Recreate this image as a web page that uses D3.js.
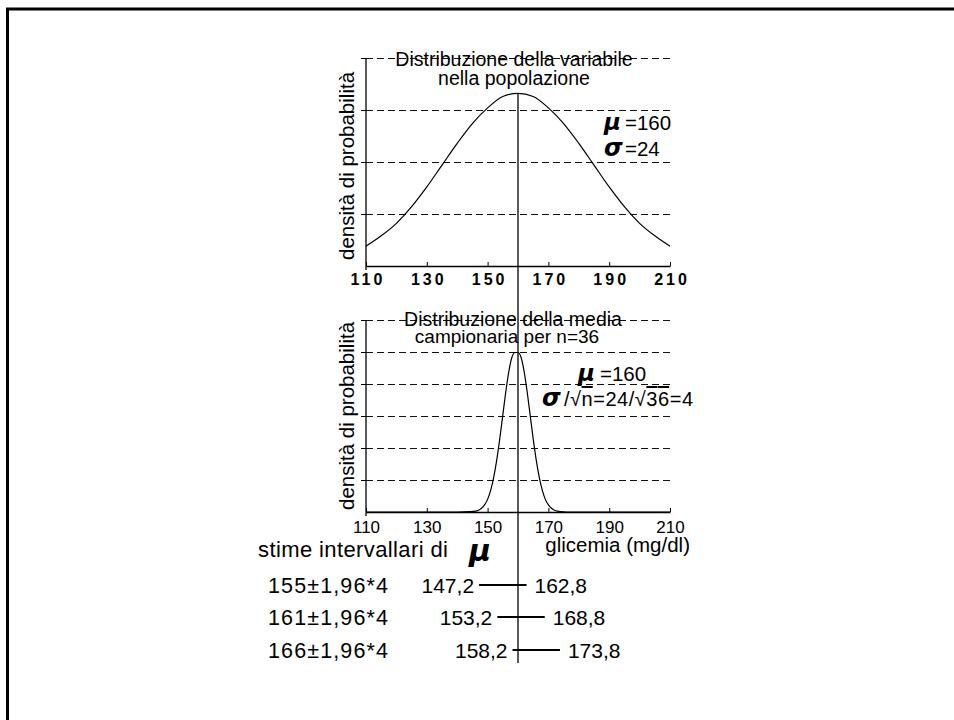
<!DOCTYPE html>
<html>
<head>
<meta charset="utf-8">
<script src="https://cdn.jsdelivr.net/npm/d3@7"></script>
<style>
  body { margin: 0; background: #fff; }
  svg { display: block; font-family: "Liberation Sans", Arial, sans-serif; }
</style>
</head>
<body>
<svg id="chart" width="954" height="720"></svg>
<script>
// ---- data ----
const xTicks = [110, 130, 150, 170, 190, 210];
const popGrid = [0.005, 0.01, 0.015, 0.02];
const sampGrid = [0.02, 0.04, 0.06, 0.08, 0.1, 0.12];
const popMean = 160;
// population density curve
const popX = [110,115,120,125,130,135,140,145,150,155,160,165,170,175,180,185,190,195,200,205,210];
const popY = [0.0019,0.0029,0.0041,0.0057,0.0076,0.0097,0.0118,0.0137,0.0152,0.0163,0.0166,0.0163,0.0152,0.0137,0.0118,0.0097,0.0076,0.0057,0.0041,0.0029,0.0019];
// sample-mean density curve (n = 36)
const sampX = [110,140,144,146,147,148,149,150,151,152,153,154,155,156,157,158,159,160,161,162,163,164,165,166,167,168,169,170,171,172,173,174,176,180,210];
const sampY = [0,0,0.0002,0.0005,0.0011,0.0023,0.0044,0.0079,0.0135,0.0216,0.0324,0.0457,0.0605,0.0753,0.0880,0.0967,0.0997,0.0997,0.0967,0.0880,0.0753,0.0605,0.0457,0.0324,0.0216,0.0135,0.0079,0.0044,0.0023,0.0011,0.0005,0.0002,0,0,0];
const estLabels = ["155\u00B11,96*4", "161\u00B11,96*4", "166\u00B11,96*4"];
const lowerBounds = [147.2, 153.2, 158.2];
const upperBounds = [162.8, 168.8, 173.8];
const lowerLabels = ["147,2", "153,2", "158,2"];
const upperLabels = ["162,8", "168,8", "173,8"];

const svg = d3.select("#chart");

// frame
svg.append("path")
  .attr("d", "M7.5,740 L7.5,9 L970,9")
  .attr("fill", "none").attr("stroke", "#000").attr("stroke-width", 3);

const x = d3.scaleLinear().domain([110, 210]).range([366, 670]);
const yTop = d3.scaleLinear().domain([0, 0.02]).range([266, 58]);
const yBot = d3.scaleLinear().domain([0, 0.12]).range([512, 320]);
const px = v => Math.round(v) + 0.5;

function panel(y, grid, pts, tickStyle) {
  const g = svg.append("g");
  g.selectAll("line.grid").data(grid).join("line")
    .attr("x1", x.range()[0]).attr("x2", x.range()[1])
    .attr("y1", d => px(y(d))).attr("y2", d => px(y(d)))
    .attr("stroke", "#111").attr("stroke-width", 1).attr("stroke-dasharray", "7,4")
    .attr("shape-rendering", "crispEdges");
  g.selectAll("line.yt").data(grid).join("line")
    .attr("x1", x.range()[0] - 5).attr("x2", x.range()[0])
    .attr("y1", d => px(y(d))).attr("y2", d => px(y(d)))
    .attr("stroke", "#000").attr("shape-rendering", "crispEdges");
  g.append("line")
    .attr("x1", x.range()[0]).attr("x2", x.range()[0])
    .attr("y1", y(grid[grid.length - 1])).attr("y2", y(0) + 4)
    .attr("stroke", "#000").attr("stroke-width", 1.3);
  const ax = d3.axisBottom(x).tickValues(xTicks).tickSize(-4).tickSizeOuter(0).tickPadding(tickStyle.pad);
  const ga = g.append("g").attr("transform", `translate(0,${y(0)})`).call(ax);
  ga.select(".domain").attr("stroke-width", 1.3);
  ga.selectAll("text")
    .attr("font-family", "Liberation Sans, Arial, sans-serif")
    .attr("font-size", tickStyle.size)
    .attr("font-weight", tickStyle.weight)
    .attr("letter-spacing", tickStyle.ls)
    .attr("dx", tickStyle.dx)
    .attr("fill", "#000");
  const line = d3.line().x(d => x(d[0])).y(d => y(d[1])).curve(d3.curveMonotoneX);
  g.append("path").datum(pts).attr("d", line)
    .attr("fill", "none").attr("stroke", "#000").attr("stroke-width", 1.2);
  return g;
}

panel(yTop, popGrid, popX.map((v, i) => [v, popY[i]]),
  { size: 16, weight: "bold", ls: "3px", pad: 8, dx: "1.5px" });
panel(yBot, sampGrid, sampX.map((v, i) => [v, sampY[i]]),
  { size: 17, weight: "normal", ls: "0px", pad: 9, dx: "0px" });

// vertical mean line
svg.append("line")
  .attr("x1", x(popMean)).attr("x2", x(popMean))
  .attr("y1", yTop(d3.max(popY))).attr("y2", 663)
  .attr("stroke", "#000").attr("stroke-width", 1.3);

const T = (tx, ty, txt, size, anchor) => svg.append("text")
  .attr("x", tx).attr("y", ty).attr("font-size", size)
  .attr("text-anchor", anchor || "middle").text(txt);

T(514, 66, "Distribuzione della variabile", 19.5);
T(514, 85, "nella popolazione", 19.5);
T(513, 326, "Distribuzione della media", 19.5);
T(507, 343, "campionaria per n=36", 19);

[166, 416].forEach(cy => {
  svg.append("text")
    .attr("transform", `translate(354,${cy}) rotate(-90)`)
    .attr("text-anchor", "middle").attr("font-size", 20.5)
    .text("densit\u00E0 di probabilit\u00E0");
});

function greek(tx, ty, ch, size) {
  return svg.append("text").attr("x", tx).attr("y", ty)
    .attr("font-size", size).attr("font-weight", "bold").attr("font-style", "italic")
    .attr("font-family", "DejaVu Sans, sans-serif").text(ch);
}
// parameter annotations (top)
greek(604, 130, "\u03BC", 23);
T(625, 130, "=160", 20.5, "start");
greek(604, 156, "\u03C3", 24);
T(625, 156, "=24", 20.5, "start");

// parameter annotations (bottom)
greek(578, 381, "\u03BC", 23);
T(600, 381, "=160", 20.5, "start");
greek(542, 406, "\u03C3", 24);
const s2 = svg.append("text").attr("x", 564).attr("y", 406).attr("font-size", 20)
  .attr("textLength", 129).attr("lengthAdjust", "spacing");
s2.append("tspan").text("/\u221A");
s2.append("tspan").attr("text-decoration", "overline").text("n");
s2.append("tspan").text("=24/\u221A");
s2.append("tspan").attr("text-decoration", "overline").text("36");
s2.append("tspan").text("=4");

// x-axis title
T(690, 552, "glicemia (mg/dl)", 20.5, "end");

// interval estimates
T(258, 557, "stime intervallari di", 22).attr("text-anchor", "start")
  .attr("textLength", 190).attr("lengthAdjust", "spacing");
greek(469, 561, "\u03BC", 30);

const rowY = [593, 625, 658];
estLabels.forEach((lab, i) => {
  const by = rowY[i];
  T(268, by, lab, 21.5, "start").attr("textLength", 120).attr("lengthAdjust", "spacing");
  svg.append("line")
    .attr("x1", x(lowerBounds[i])).attr("x2", x(upperBounds[i]))
    .attr("y1", by - 8).attr("y2", by - 8)
    .attr("stroke", "#000").attr("stroke-width", 1.8);
  T(x(lowerBounds[i]) - 5, by, lowerLabels[i], 21, "end");
  T(x(upperBounds[i]) + 8, by, upperLabels[i], 21, "start");
});
</script>
</body>
</html>
